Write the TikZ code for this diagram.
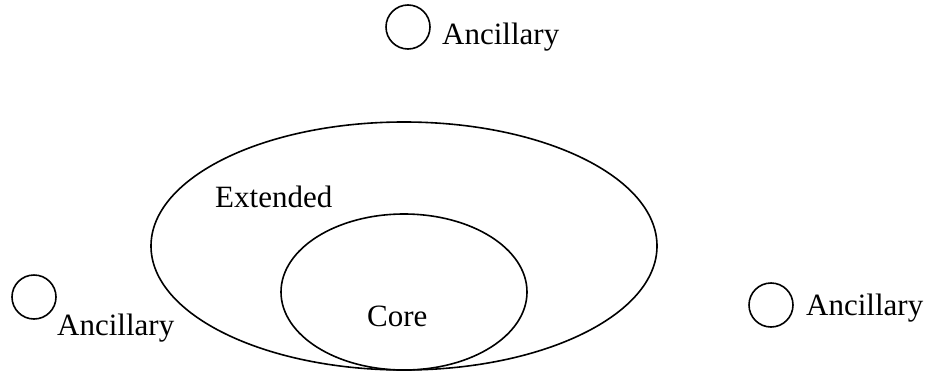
\documentclass[tikz,border=0pt]{standalone}
\usepackage{fontspec}
\setmainfont{Liberation Serif}
\usetikzlibrary{shapes.geometric}
\tikzset{
  ring/.style={ellipse, draw, line width=1.6pt, inner sep=0pt},
  anc/.style={circle, draw, line width=1.6pt, inner sep=0pt, minimum size=44pt},
  lbl/.style={inner sep=0pt, anchor=base west, font=\fontsize{31}{37}\selectfont}
}
\begin{document}
\begin{tikzpicture}[x=1pt,y=-1pt]
\useasboundingbox (0,0) rectangle (925,372);
\node[ring, minimum width=506pt, minimum height=248pt] (ext) at (404,246) {};
\node[ring, minimum width=246pt, minimum height=156pt] (core) at (404,292) {};
\node[lbl] (extl) at (215,207) {Extended};
\node[lbl] (corel) at (367,326) {Core};
\node[anc] (c1) at (408,27) {};
\node[lbl] (t1) at (442,44) {Ancillary};
\node[anc] (c2) at (34,297) {};
\node[lbl] (t2) at (57,335) {Ancillary};
\node[anc] (c3) at (771,305) {};
\node[lbl] (t3) at (806,315) {Ancillary};
\end{tikzpicture}
\end{document}
